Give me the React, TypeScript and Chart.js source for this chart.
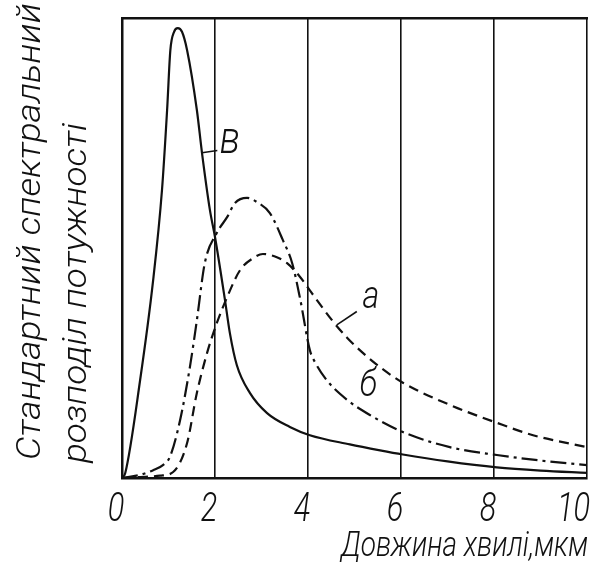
import React, { useEffect, useRef } from 'react';
import { Chart, registerables } from 'chart.js';

Chart.register(...registerables);

// ---- data ----
const xTickValues = [0, 2, 4, 6, 8, 10];

// curve "а" (dashed)
const aX = [0, 0.39, 0.82, 1.1, 1.4, 1.61, 1.83, 2.04, 2.26, 2.54, 2.82, 3.03, 3.33, 3.55, 3.83, 4.06, 4.54, 4.84, 5.18, 5.55, 6.04, 7.05, 8.06, 8.84, 10];
const aY = [0, 0.002, 0.005, 0.013, 0.076, 0.185, 0.272, 0.337, 0.393, 0.452, 0.478, 0.487, 0.48, 0.467, 0.437, 0.405, 0.34, 0.305, 0.272, 0.241, 0.207, 0.159, 0.12, 0.093, 0.067];

// curve "б" (dash-dot)
const bX = [0, 0.39, 0.67, 0.88, 1.03, 1.25, 1.46, 1.61, 1.78, 2.04, 2.26, 2.43, 2.69, 2.9, 3.18, 3.46, 3.66, 3.83, 4.04, 4.15, 4.4, 4.84, 5.33, 6.04, 7.05, 8.06, 9.0, 10];
const bY = [0, 0.007, 0.017, 0.028, 0.046, 0.126, 0.241, 0.343, 0.467, 0.533, 0.567, 0.598, 0.609, 0.6, 0.576, 0.517, 0.467, 0.39, 0.278, 0.252, 0.213, 0.17, 0.137, 0.1, 0.067, 0.05, 0.038, 0.028];

// curve "в" (solid)
const vX = [0, 0.07, 0.39, 0.67, 0.86, 0.97, 1.04, 1.12, 1.2, 1.29, 1.4, 1.61, 1.72, 1.89, 2.0, 2.21, 2.32, 2.47, 2.75, 3.12, 3.61, 4.04, 4.9, 5.55, 6.04, 7.0, 8.06, 9.0, 10];
const vY = [0, 0.011, 0.213, 0.43, 0.626, 0.8, 0.93, 0.97, 0.978, 0.97, 0.93, 0.8, 0.707, 0.583, 0.524, 0.39, 0.315, 0.245, 0.185, 0.141, 0.111, 0.093, 0.073, 0.06, 0.051, 0.036, 0.023, 0.016, 0.011];

const curveNames = ['а', 'б', 'в'];
// label anchors [x, y] and leader lines, in data units
const labelPos = [[5.35, 0.39], [5.3, 0.2], [2.32, 0.73]];
const leaderFrom = [[4.62, 0.333], null, [1.72, 0.707]];
const leaderTo = [[5.05, 0.362], null, [2.05, 0.712]];

const xTitle = 'Довжина хвилі,мкм';
const yTitleLines = ['Стандартний спектральний', 'розподіл потужності'];

// ---- styling ----
const INK = '#111111';
const FAMILY = 'Roboto, "Liberation Sans", "DejaVu Sans", sans-serif';
const fontOf = (size: number) => `italic 300 ${size}px ${FAMILY}`;

function drawText(
  ctx: CanvasRenderingContext2D,
  text: string,
  x: number,
  y: number,
  size: number,
  opts: { align?: CanvasTextAlign; baseline?: CanvasTextBaseline; sx?: number; width?: number; rotate?: number } = {}
) {
  ctx.save();
  ctx.font = fontOf(size);
  ctx.textAlign = opts.align || 'center';
  ctx.textBaseline = opts.baseline || 'alphabetic';
  let sx = opts.sx || 1;
  if (opts.width) sx = opts.width / ctx.measureText(text).width;
  ctx.translate(x, y);
  if (opts.rotate) ctx.rotate(opts.rotate);
  ctx.scale(sx, 1);
  ctx.fillText(text, 0, 0);
  ctx.restore();
}

const decorPlugin = {
  id: 'decor',
  afterDatasetsDraw(chart: any) {
    const { ctx, scales } = chart;
    const xs = scales.x;
    const ys = scales.y;
    ctx.save();
    ctx.fillStyle = INK;
    ctx.strokeStyle = INK;
    ctx.lineWidth = 1.6;
    ctx.setLineDash([]);
    curveNames.forEach((name, i) => {
      const f = leaderFrom[i];
      const t = leaderTo[i];
      if (f && t) {
        ctx.beginPath();
        ctx.moveTo(xs.getPixelForValue(f[0]), ys.getPixelForValue(f[1]));
        ctx.lineTo(xs.getPixelForValue(t[0]), ys.getPixelForValue(t[1]));
        ctx.stroke();
      }
      const size = name === 'в' ? 44 : 38;
      drawText(ctx, name, xs.getPixelForValue(labelPos[i][0]), ys.getPixelForValue(labelPos[i][1]), size, {
        baseline: 'middle',
        sx: 0.85,
      });
    });
    ctx.restore();
  },
  afterDraw(chart: any) {
    const { ctx, chartArea, scales } = chart;
    const xs = scales.x;
    ctx.save();
    ctx.fillStyle = INK;
    // x tick labels, positioned by the x scale
    xTickValues.forEach((v) => {
      ctx.font = fontOf(41);
      const w = ctx.measureText(String(v)).width * 0.75;
      let cx = xs.getPixelForValue(v) - 6;
      cx = Math.min(cx, chartArea.right + 3 - w / 2);
      drawText(ctx, String(v), cx, 521, 41, { sx: 0.75 });
    });
    // x axis title
    drawText(ctx, xTitle, chartArea.right + 1, 556, 35, { align: 'right', width: 247 });
    // y axis title (two rotated lines)
    const baselines = [40, 86];
    const starts = [460, 463];
    const lengths = [457, 340];
    yTitleLines.forEach((line, i) => {
      drawText(ctx, line, baselines[i], starts[i], 34, {
        align: 'left',
        rotate: -Math.PI / 2,
        width: lengths[i],
      });
    });
    ctx.restore();
  },
};

function toPoints(xs: number[], ys: number[]) {
  return xs.map((x, i) => ({ x, y: ys[i] }));
}

export default function App() {
  const ref = useRef<HTMLCanvasElement | null>(null);
  useEffect(() => {
    if (!ref.current) return;
    const chart = new Chart(ref.current, {
      type: 'line',
      data: {
        datasets: [
          {
            label: curveNames[0],
            data: toPoints(aX, aY),
            borderColor: INK,
            borderWidth: 2.2,
            borderDash: [10, 6],
            pointRadius: 0,
            fill: false,
            cubicInterpolationMode: 'monotone',
          },
          {
            label: curveNames[1],
            data: toPoints(bX, bY),
            borderColor: INK,
            borderWidth: 2.2,
            borderDash: [16, 5, 3, 5],
            pointRadius: 0,
            fill: false,
            cubicInterpolationMode: 'monotone',
          },
          {
            label: curveNames[2],
            data: toPoints(vX, vY),
            borderColor: INK,
            borderWidth: 2.2,
            pointRadius: 0,
            fill: false,
            cubicInterpolationMode: 'monotone',
          },
        ],
      },
      options: {
        animation: false,
        responsive: false,
        devicePixelRatio: 1,
        layout: { padding: { left: 0, top: 18, right: 6, bottom: 0 } },
        plugins: { legend: { display: false }, tooltip: { enabled: false } },
        scales: {
          x: {
            type: 'linear',
            position: 'bottom',
            min: 0,
            max: 10,
            afterBuildTicks: (s: any) => {
              s.ticks = xTickValues.map((v) => ({ value: v }));
            },
            ticks: { display: false },
            grid: { color: INK, lineWidth: 1.6, drawTicks: false },
            border: { display: true, color: INK, width: 2.5 },
            afterFit: (s: any) => {
              s.height = 99;
              s.paddingLeft = 0;
              s.paddingRight = 0;
            },
          },
          x2: {
            type: 'linear',
            position: 'top',
            min: 0,
            max: 10,
            ticks: { display: false },
            grid: { display: false, drawTicks: false },
            border: { display: true, color: INK, width: 2.5 },
            afterFit: (s: any) => {
              s.height = 0;
              s.paddingLeft = 0;
              s.paddingRight = 0;
            },
          },
          y: {
            type: 'linear',
            position: 'left',
            min: 0,
            max: 1,
            ticks: { display: false },
            grid: { display: false, drawTicks: false },
            border: { display: true, color: INK, width: 2.5 },
            afterFit: (s: any) => {
              s.width = 122;
            },
          },
        },
      },
      plugins: [decorPlugin],
    } as any);
    return () => chart.destroy();
  }, []);
  return (
    <canvas
      ref={ref}
      width={593}
      height={577}
      style={{ position: 'absolute', left: 0, top: 0, width: 593, height: 577 }}
    />
  );
}
